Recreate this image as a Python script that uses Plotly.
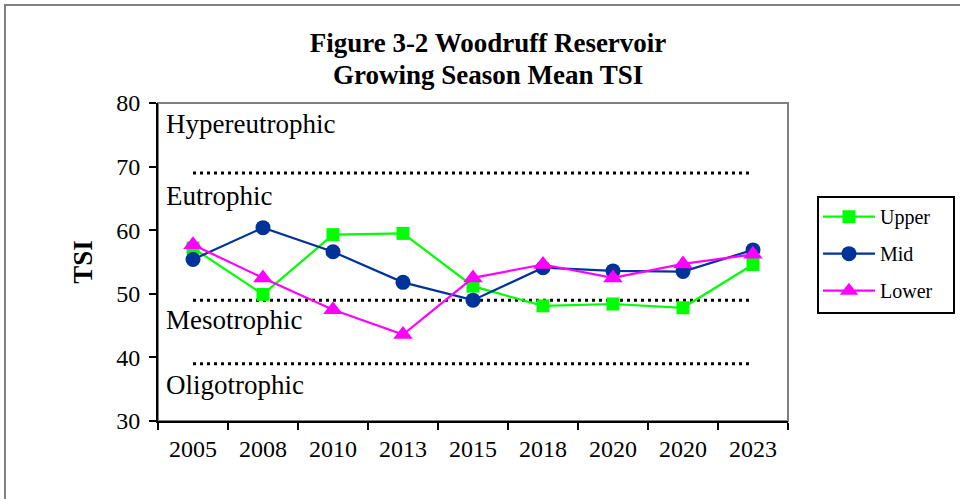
import plotly.graph_objects as go

categories = ["2005", "2008", "2010", "2013", "2015", "2018", "2020", "2020", "2023"]
upper = [57.2, 49.9, 59.3, 59.5, 51.2, 48.1, 48.4, 47.8, 54.6]
mid = [55.4, 60.4, 56.6, 51.8, 49.0, 54.1, 53.6, 53.5, 56.9]
lower = [57.7, 52.5, 47.5, 43.6, 52.5, 54.6, 52.5, 54.7, 56.2]
thresholds = [69, 49, 39]
zone_labels = ["Hypereutrophic", "Eutrophic", "Mesotrophic", "Oligotrophic"]
zone_label_y = [76.7, 65.4, 45.9, 35.6]
y_ticks = [30, 40, 50, 60, 70, 80]
title_line1 = "Figure 3-2 Woodruff Reservoir"
title_line2 = "Growing Season Mean TSI"

xs = list(range(len(categories)))
SERIF = "Liberation Serif, Times New Roman, serif"

fig = go.Figure()

for t in thresholds:
    fig.add_trace(go.Scatter(
        x=xs, y=[t] * len(xs), mode="lines", showlegend=False, hoverinfo="skip",
        line=dict(color="black", width=3, dash="3px,4px")))

fig.add_trace(go.Scatter(
    x=xs, y=upper, name="Upper", mode="lines+markers", legendgroup="u",
    line=dict(color="#00FF00", width=2.2),
    marker=dict(symbol="square", size=13, color="#00FF00")))
fig.add_trace(go.Scatter(
    x=xs, y=mid, name="Mid", mode="lines+markers", legendgroup="m",
    line=dict(color="#003399", width=2.2),
    marker=dict(symbol="circle", size=15, color="#003399")))
fig.add_trace(go.Scatter(
    x=xs, y=lower, name="Lower", mode="lines+markers", legendgroup="l",
    line=dict(color="#FF00FF", width=2.2),
    marker=dict(symbol="triangle-up", size=17, color="#FF00FF")))

for txt, yv in zip(zone_labels, zone_label_y):
    fig.add_annotation(text=txt, xref="paper", yref="y", x=0.009, y=yv,
                       xanchor="left", yanchor="middle", showarrow=False,
                       font=dict(family=SERIF, size=27, color="black"))

# second title line
fig.add_annotation(text="<b>" + title_line2 + "</b>", xref="paper", yref="paper",
                   x=(488 - 158) / 630, y=(421 - 75.5) / 318,
                   xanchor="center", yanchor="middle", showarrow=False,
                   font=dict(family=SERIF, size=27, color="black"))

# outer border
fig.add_shape(type="rect", xref="paper", yref="paper",
              x0=-0.2429, x1=1.30, y0=-0.30, y1=1.308,
              line=dict(color="#808080", width=2), layer="below")
# plot area border
fig.add_shape(type="rect", xref="paper", yref="paper", x0=0, x1=1, y0=0, y1=1,
              line=dict(color="#808080", width=2), layer="below")
# legend frame
fig.add_shape(type="rect", xref="paper", yref="paper",
              x0=(818 - 158) / 630, x1=(954 - 158) / 630,
              y0=(421 - 313) / 318, y1=(421 - 197) / 318,
              line=dict(color="black", width=2), fillcolor="white", layer="below")

fig.update_layout(
    width=960, height=499,
    margin=dict(l=158, r=172, t=103, b=78),
    paper_bgcolor="white", plot_bgcolor="white",
    font=dict(family=SERIF, color="black"),
    title=dict(text="<b>" + title_line1 + "</b>",
               x=488 / 960, xanchor="center", y=1 - 43 / 499, yanchor="middle",
               font=dict(family=SERIF, size=27, color="black")),
    showlegend=True,
    legend=dict(x=1.0476, y=0.704, xanchor="left", yanchor="top",
                borderwidth=0, bgcolor="rgba(0,0,0,0)",
                font=dict(family=SERIF, size=20, color="black"),
                tracegroupgap=8, itemwidth=52),
    xaxis=dict(range=[-0.5, len(categories) - 0.5], tickmode="array",
               tickvals=xs, ticktext=categories, ticks="",
               showline=True, linecolor="black", linewidth=2, showgrid=False,
               zeroline=False, tickfont=dict(family=SERIF, size=24, color="black"),
               ticklabelstandoff=5,
               minor=dict(tickmode="array",
                          tickvals=[i - 0.5 for i in range(len(categories) + 1)],
                          ticks="outside", ticklen=7, tickwidth=1.5, tickcolor="black")),
    yaxis=dict(range=[30, 80], tickmode="array", tickvals=y_ticks,
               ticks="outside", ticklen=7, tickwidth=1.5, tickcolor="black",
               showline=True, linecolor="black", linewidth=2, showgrid=False,
               zeroline=False, tickfont=dict(family=SERIF, size=24, color="black"),
               ticklabelstandoff=4,
               title=dict(text="<b>TSI</b>", standoff=16,
                          font=dict(family=SERIF, size=27, color="black"))),
)

fig.write_html("out.html", config={"displayModeBar": False},
               post_script="document.body.style.margin='0';")
